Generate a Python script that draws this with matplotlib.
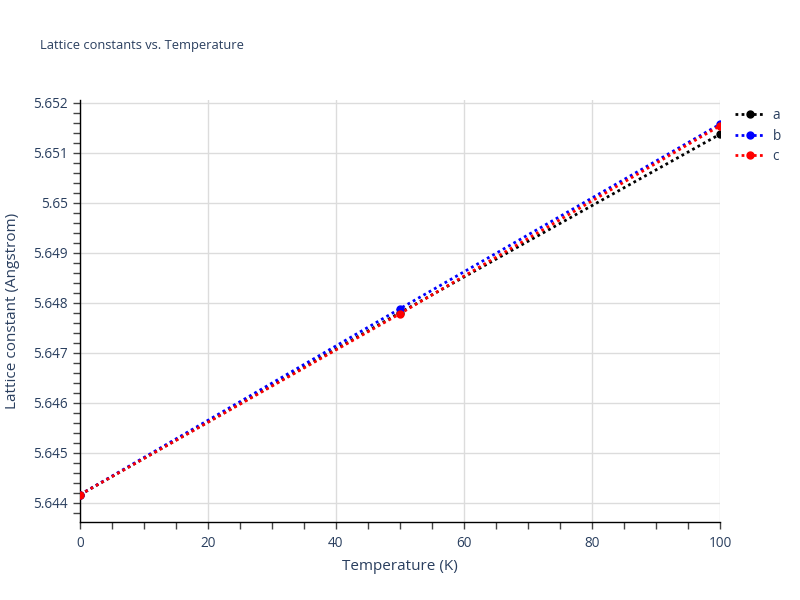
import matplotlib
matplotlib.use("Agg")
import matplotlib.pyplot as plt
from matplotlib.ticker import MultipleLocator, FuncFormatter

# data
temperature = [0, 50, 100]
lat_a = [5.64416, 5.64780, 5.65137]
lat_b = [5.64416, 5.64788, 5.65157]
lat_c = [5.64416, 5.64778, 5.65154]

series = [("a", lat_a, "black"), ("b", lat_b, "blue"), ("c", lat_c, "red")]

TXT = "#2a3f5f"
GRID = "#dcdcdc"

plt.rcParams["font.family"] = ["Open Sans", "DejaVu Sans"]

fig = plt.figure(figsize=(8, 6), dpi=100)
ax = fig.add_axes([0.1, 1 - 521.7 / 600, 0.8, (521.7 - 100) / 600])

for name, vals, col in series:
    ax.plot(temperature, vals, linestyle=(0, (1, 1.2)), linewidth=2, color=col,
            marker="o", markersize=5, label=name, zorder=3)

ax.set_xlim(0, 100)
ax.set_ylim(5.64362, 5.652054)

ax.xaxis.set_major_locator(MultipleLocator(20))
ax.xaxis.set_minor_locator(MultipleLocator(5))
ax.yaxis.set_major_locator(MultipleLocator(0.001))
ax.yaxis.set_minor_locator(MultipleLocator(0.0002))

def fmt_y(v, pos):
    s = f"{v:.3f}".rstrip("0").rstrip(".")
    return s

ax.yaxis.set_major_formatter(FuncFormatter(fmt_y))

ax.grid(True, which="major", color=GRID, linewidth=1)
ax.set_axisbelow(True)
for side in ["top", "right"]:
    ax.spines[side].set_visible(False)
for side in ["left", "bottom"]:
    ax.spines[side].set_color("black")
    ax.spines[side].set_linewidth(1)

ax.tick_params(which="both", direction="out", length=5, width=1, color="#444444",
               labelcolor=TXT, labelsize=9.8)
ax.tick_params(axis="x", which="both", pad=5)

ax.set_xlabel("Temperature (K)", color=TXT, fontsize=11, labelpad=6)
ax.set_ylabel("Lattice constant (Angstrom)", color=TXT, fontsize=11, labelpad=10)

fig.text(40 / 800, 1 - 46 / 600, "Lattice constants vs. Temperature", color=TXT,
         fontsize=9.3, ha="left", va="center")

leg = ax.legend(loc="upper left", bbox_to_anchor=(1.01, 1.0), frameon=False,
                fontsize=9.8, labelcolor=TXT, handlelength=2.2, handletextpad=0.6,
                labelspacing=0.4, borderaxespad=0.2)

fig.savefig("out.png", dpi=100, facecolor="white")
